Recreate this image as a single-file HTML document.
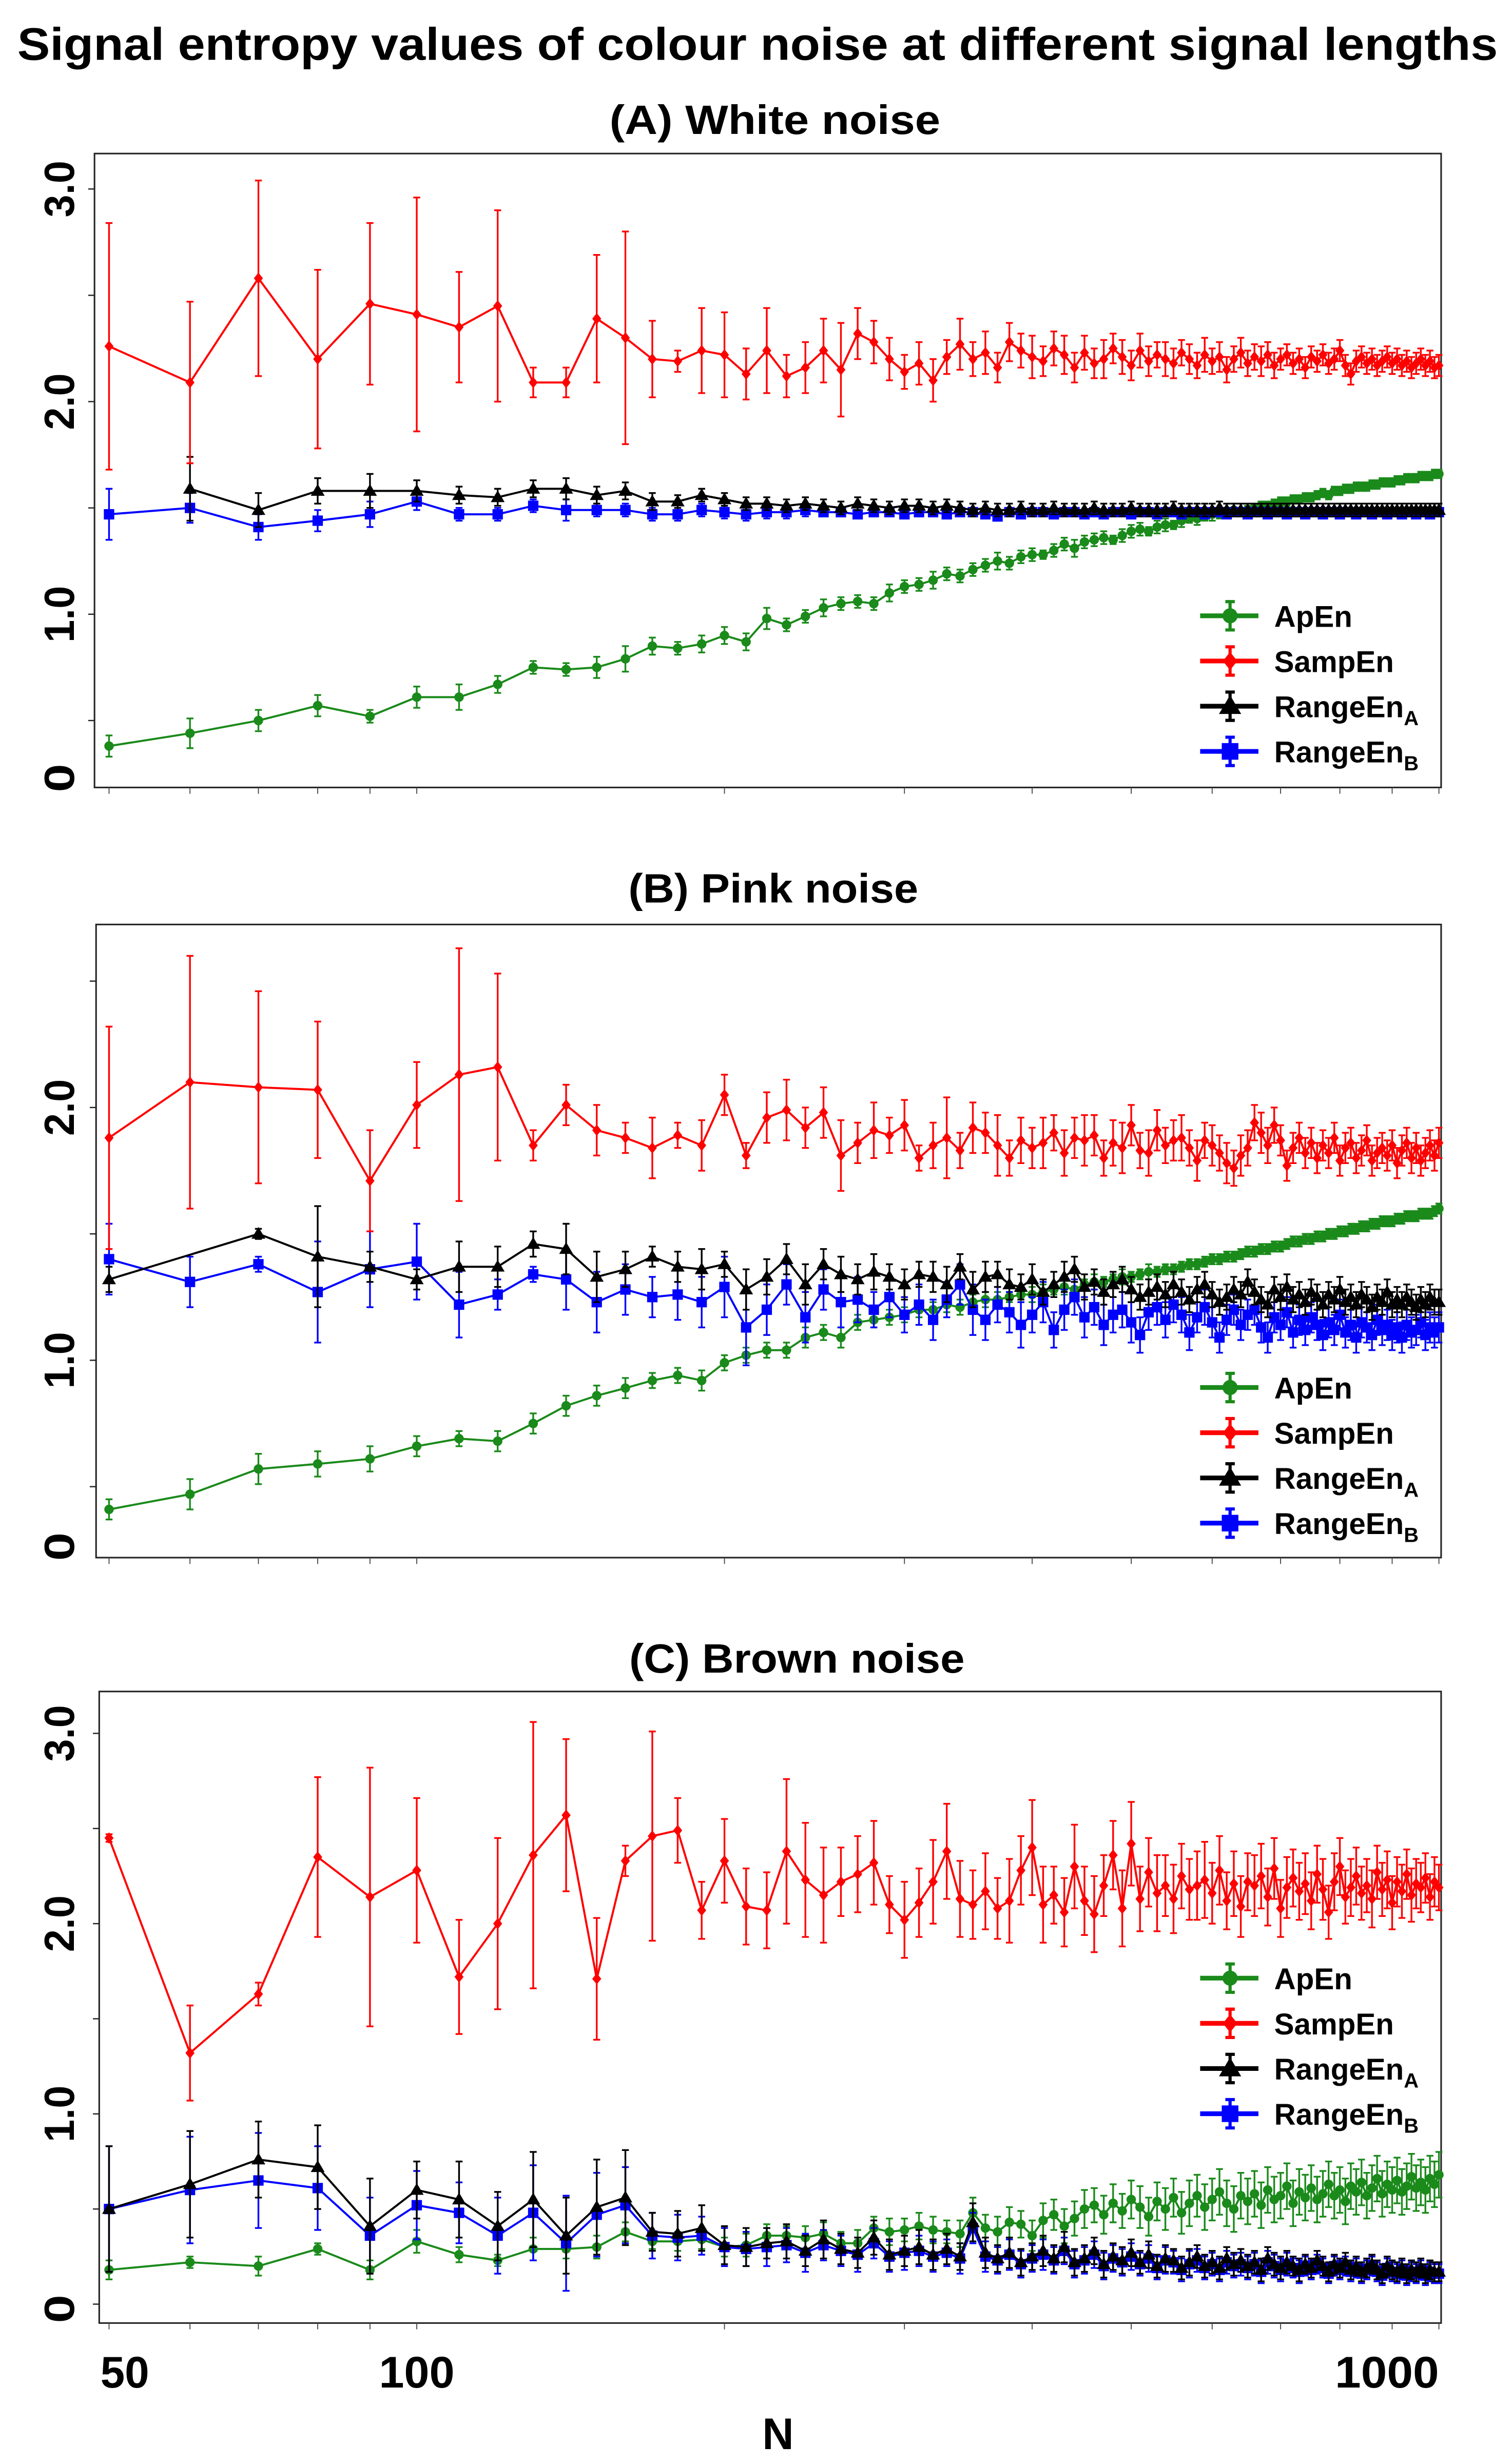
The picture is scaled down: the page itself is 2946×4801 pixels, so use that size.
<!DOCTYPE html>
<html><head><meta charset="utf-8">
<style>
html,body{margin:0;padding:0;background:#fff;}
svg{display:block;}
text{font-family:"Liberation Sans",sans-serif;font-weight:bold;}
</style></head>
<body>
<svg id="chart" width="2946" height="4801" viewBox="0 0 960 1564.5" preserveAspectRatio="none" xmlns="http://www.w3.org/2000/svg">
<rect x="0" y="0" width="960" height="1564.5" fill="#fff"/>
<text x="481" y="38" font-size="29" text-anchor="middle" textLength="940" lengthAdjust="spacingAndGlyphs">Signal entropy values of colour noise at different signal lengths</text>
<text x="494" y="1555" font-size="28" text-anchor="middle" textLength="20" lengthAdjust="spacingAndGlyphs">N</text>
</svg>
<script>
const Ns=[50,60,70,80,90,100,110,120,130,140,150,160,170,180,190,200,210,220,230,240,250,260,270,280,290,300,310,320,330,340,350,360,370,380,390,400,410,420,430,440,450,460,470,480,490,500,510,520,530,540,550,560,570,580,590,600,610,620,630,640,650,660,670,680,690,700,710,720,730,740,750,760,770,780,790,800,810,820,830,840,850,860,870,880,890,900,910,920,930,940,950,960,970,980,990,1000];
const xTickLabels=["50","100","1000"];
const xTickValues=[50,100,1000];
const xMinorTicks=[50,60,70,80,90,100,200,300,400,500,600,700,800,900,1000];

/* ---------- Panel A: white noise ---------- */
const whiteApEn=[0.38,0.44,0.50,0.57,0.52,0.61,0.61,0.67,0.75,0.74,0.75,0.79,0.85,0.84,0.86,0.90,0.87,0.98,0.95,0.99,1.03,1.05,1.06,1.05,1.10,1.13,1.14,1.16,1.19,1.18,1.21,1.23,1.25,1.24,1.27,1.28,1.28,1.30,1.33,1.31,1.34,1.35,1.36,1.35,1.37,1.39,1.40,1.39,1.41,1.42,1.42,1.44,1.45,1.45,1.46,1.47,1.47,1.48,1.49,1.48,1.49,1.50,1.51,1.51,1.52,1.53,1.53,1.54,1.54,1.55,1.55,1.56,1.57,1.56,1.58,1.58,1.59,1.59,1.60,1.60,1.60,1.61,1.61,1.62,1.62,1.62,1.63,1.63,1.64,1.64,1.64,1.65,1.65,1.65,1.66,1.66];
const whiteApEnErr=[0.05,0.07,0.05,0.05,0.03,0.05,0.06,0.04,0.03,0.03,0.05,0.06,0.04,0.03,0.04,0.04,0.04,0.05,0.03,0.03,0.04,0.03,0.03,0.03,0.04,0.03,0.03,0.04,0.03,0.03,0.03,0.03,0.04,0.03,0.03,0.03,0.02,0.03,0.03,0.04,0.03,0.03,0.03,0.02,0.03,0.03,0.03,0.02,0.03,0.03,0.02,0.03,0.02,0.03,0.02,0.03,0.02,0.02,0.03,0.02,0.02];
const whiteSampEn=[2.26,2.09,2.58,2.20,2.46,2.41,2.35,2.45,2.09,2.09,2.39,2.30,2.20,2.19,2.24,2.22,2.13,2.24,2.12,2.16,2.24,2.15,2.32,2.28,2.20,2.14,2.18,2.10,2.21,2.27,2.20,2.23,2.16,2.28,2.24,2.21,2.19,2.25,2.22,2.16,2.23,2.18,2.20,2.25,2.21,2.17,2.24,2.19,2.22,2.20,2.18,2.23,2.20,2.17,2.22,2.19,2.21,2.15,2.20,2.23,2.18,2.21,2.19,2.22,2.17,2.20,2.22,2.18,2.20,2.16,2.21,2.19,2.22,2.18,2.20,2.24,2.17,2.13,2.19,2.21,2.18,2.20,2.17,2.19,2.21,2.18,2.20,2.17,2.19,2.16,2.18,2.20,2.17,2.19,2.16,2.17];
const whiteSampEnErr=[0.58,0.38,0.46,0.42,0.38,0.55,0.26,0.45,0.07,0.07,0.30,0.50,0.18,0.05,0.20,0.20,0.12,0.20,0.10,0.12,0.15,0.22,0.12,0.10,0.10,0.08,0.10,0.10,0.08,0.12,0.08,0.10,0.07,0.09,0.08,0.10,0.07,0.08,0.09,0.07,0.08,0.07,0.09,0.07,0.08,0.07,0.08,0.07,0.06,0.08,0.07,0.06,0.07,0.06,0.08,0.06,0.07,0.06,0.06,0.07,0.06,0.06,0.07,0.06,0.06,0.05];
const whiteRangeA=[null,1.59,1.49,1.58,1.58,1.58,1.56,1.55,1.59,1.59,1.56,1.58,1.53,1.53,1.56,1.54,1.52,1.52,1.51,1.52,1.51,1.50,1.52,1.51,1.50,1.51,1.51,1.50,1.51,1.50,1.49,1.50,1.49,1.49,1.50,1.49,1.49,1.50,1.49,1.49,1.49,1.50,1.49,1.49,1.49,1.50,1.49,1.49,1.49,1.49,1.50,1.49,1.49,1.49,1.49,1.49,1.50,1.49,1.49,1.49,1.49,1.49,1.49,1.49,1.49,1.49,1.49,1.49,1.49,1.49,1.49,1.49,1.49,1.49,1.49,1.49,1.49,1.49,1.49,1.49,1.49,1.49,1.49,1.49,1.49,1.49,1.49,1.49,1.49,1.49,1.49,1.49,1.49,1.49,1.49,1.49];
const whiteRangeAErr=[0,0.15,0.08,0.06,0.08,0.05,0.04,0.04,0.04,0.05,0.04,0.04,0.04,0.03,0.03,0.03,0.03,0.03,0.03,0.03,0.03];
const whiteRangeB=[1.47,1.50,1.41,1.44,1.47,1.53,1.47,1.47,1.51,1.49,1.49,1.49,1.47,1.47,1.49,1.48,1.47,1.48,1.48,1.49,1.48,1.48,1.47,1.48,1.48,1.47,1.48,1.48,1.47,1.48,1.48,1.47,1.46,1.48,1.47,1.48,1.48,1.47,1.48,1.48,1.47,1.48,1.47,1.48,1.48,1.47,1.48,1.48,1.47,1.48,1.48,1.47,1.48,1.48,1.47,1.48,1.48,1.47,1.48,1.48,1.47,1.48,1.48,1.47,1.48,1.48,1.47,1.48,1.48,1.47,1.48,1.48,1.47,1.48,1.48,1.47,1.48,1.48,1.47,1.48,1.48,1.47,1.48,1.48,1.47,1.48,1.48,1.47,1.48,1.48,1.47,1.48,1.48,1.47,1.48,1.48];
const whiteRangeBErr=[0.12,0.07,0.06,0.05,0.06,0.04,0.03,0.03,0.03,0.05,0.03,0.03,0.03,0.03,0.03,0.03,0.03,0.03,0.03,0.03,0.02];

/* ---------- Panel B: pink noise ---------- */
const pinkApEn=[0.41,0.47,0.57,0.59,0.61,0.66,0.69,0.68,0.75,0.82,0.86,0.89,0.92,0.94,0.92,0.99,1.02,1.04,1.04,1.09,1.11,1.09,1.15,1.16,1.17,1.18,1.20,1.20,1.22,1.21,1.23,1.24,1.24,1.25,1.26,1.26,1.27,1.28,1.29,1.28,1.30,1.31,1.31,1.32,1.33,1.33,1.34,1.35,1.35,1.36,1.36,1.37,1.38,1.38,1.39,1.40,1.40,1.41,1.41,1.42,1.43,1.43,1.44,1.44,1.45,1.45,1.46,1.47,1.47,1.48,1.48,1.49,1.49,1.50,1.50,1.51,1.51,1.52,1.52,1.53,1.53,1.54,1.54,1.55,1.55,1.55,1.56,1.56,1.57,1.57,1.57,1.58,1.58,1.58,1.59,1.60];
const pinkApEnErr=[0.04,0.06,0.06,0.05,0.05,0.04,0.03,0.04,0.04,0.04,0.04,0.04,0.03,0.03,0.04,0.03,0.03,0.03,0.03,0.04,0.03,0.04,0.03,0.03,0.03,0.03,0.03,0.03,0.03,0.03,0.03,0.03,0.03,0.02,0.03,0.03,0.03,0.02,0.03,0.03,0.02,0.03,0.02,0.02,0.03,0.02,0.02,0.03,0.02,0.02,0.02];
const pinkSampEn=[1.88,2.10,2.08,2.07,1.71,2.01,2.13,2.16,1.85,2.01,1.91,1.88,1.84,1.89,1.85,2.05,1.81,1.96,1.99,1.92,1.98,1.81,1.86,1.91,1.89,1.93,1.80,1.85,1.88,1.83,1.92,1.90,1.85,1.80,1.87,1.84,1.86,1.90,1.82,1.88,1.87,1.89,1.80,1.86,1.84,1.93,1.83,1.82,1.91,1.85,1.87,1.88,1.84,1.79,1.87,1.85,1.82,1.78,1.76,1.81,1.84,1.94,1.90,1.85,1.93,1.87,1.77,1.84,1.88,1.82,1.86,1.80,1.85,1.82,1.88,1.79,1.84,1.86,1.80,1.83,1.87,1.79,1.82,1.84,1.81,1.85,1.78,1.83,1.86,1.80,1.84,1.79,1.82,1.85,1.81,1.86];
const pinkSampEnErr=[0.44,0.50,0.38,0.27,0.20,0.17,0.50,0.37,0.06,0.08,0.10,0.06,0.12,0.05,0.10,0.08,0.05,0.10,0.12,0.08,0.10,0.14,0.08,0.11,0.07,0.10,0.05,0.09,0.16,0.07,0.10,0.08,0.12,0.07,0.09,0.08,0.10,0.07,0.09,0.08,0.10,0.08,0.07,0.09,0.10,0.08,0.07,0.09,0.08,0.07,0.08,0.09,0.07,0.08,0.07,0.08,0.07,0.08,0.07,0.08,0.07,0.07,0.08,0.07,0.07,0.06];
const pinkRangeA=[1.32,null,1.50,1.41,1.37,1.32,1.37,1.37,1.46,1.44,1.33,1.36,1.41,1.37,1.36,1.38,1.28,1.33,1.40,1.30,1.38,1.34,1.32,1.35,1.33,1.30,1.34,1.33,1.30,1.37,1.28,1.33,1.34,1.30,1.29,1.32,1.27,1.30,1.33,1.36,1.29,1.31,1.27,1.30,1.32,1.28,1.25,1.27,1.29,1.26,1.30,1.27,1.24,1.28,1.30,1.26,1.23,1.25,1.28,1.26,1.31,1.27,1.24,1.22,1.28,1.25,1.29,1.24,1.26,1.23,1.27,1.25,1.22,1.26,1.24,1.28,1.23,1.25,1.22,1.26,1.24,1.21,1.25,1.23,1.27,1.22,1.24,1.22,1.25,1.23,1.21,1.24,1.22,1.25,1.23,1.23];
const pinkRangeAErr=[0.05,0,0.02,0.2,0.06,0.04,0.10,0.08,0.05,0.10,0.10,0.07,0.04,0.06,0.08,0.05,0.08,0.07,0.06,0.08,0.06,0.07,0.06,0.07,0.05,0.06,0.05,0.06,0.07,0.05,0.07,0.06,0.05,0.06,0.05,0.06,0.05,0.05,0.06,0.05,0.05];
const pinkRangeB=[1.40,1.31,1.38,1.27,1.36,1.39,1.22,1.26,1.34,1.32,1.23,1.28,1.25,1.26,1.23,1.29,1.13,1.20,1.30,1.17,1.28,1.23,1.24,1.20,1.25,1.18,1.22,1.16,1.24,1.30,1.20,1.16,1.22,1.19,1.14,1.18,1.23,1.12,1.20,1.25,1.17,1.21,1.14,1.18,1.20,1.15,1.10,1.19,1.21,1.16,1.22,1.18,1.11,1.17,1.21,1.15,1.09,1.16,1.20,1.14,1.18,1.20,1.13,1.09,1.17,1.14,1.19,1.11,1.16,1.12,1.17,1.14,1.10,1.15,1.12,1.18,1.11,1.14,1.09,1.15,1.13,1.10,1.16,1.12,1.14,1.10,1.13,1.09,1.14,1.11,1.12,1.15,1.10,1.13,1.11,1.13];
const pinkRangeBErr=[0.14,0.10,0.03,0.20,0.15,0.15,0.13,0.06,0.03,0.12,0.12,0.10,0.08,0.10,0.10,0.12,0.15,0.10,0.08,0.10,0.08,0.10,0.09,0.07,0.08,0.07,0.08,0.08,0.07,0.08,0.10,0.08,0.07,0.08,0.09,0.07,0.08,0.07,0.08,0.07,0.08,0.07,0.08,0.07,0.07,0.08,0.07,0.07,0.07,0.07,0.07,0.07,0.07,0.06,0.07,0.06];

/* ---------- Panel C: brown noise ---------- */
const brownApEn=[0.18,0.22,0.20,0.29,0.18,0.33,0.26,0.23,0.29,0.29,0.30,0.38,0.33,0.33,0.34,0.30,0.31,0.36,0.36,0.35,0.37,0.32,0.32,0.40,0.38,0.39,0.41,0.39,0.38,0.37,0.48,0.40,0.38,0.43,0.42,0.36,0.44,0.47,0.41,0.45,0.50,0.52,0.47,0.53,0.49,0.55,0.51,0.46,0.54,0.50,0.56,0.48,0.53,0.57,0.51,0.55,0.59,0.53,0.50,0.57,0.54,0.58,0.52,0.60,0.55,0.57,0.62,0.53,0.59,0.56,0.61,0.55,0.58,0.63,0.57,0.60,0.54,0.62,0.59,0.64,0.57,0.61,0.66,0.58,0.63,0.60,0.65,0.59,0.62,0.67,0.61,0.64,0.60,0.66,0.63,0.68];
const brownApEnErr=[0.05,0.03,0.05,0.03,0.05,0.06,0.04,0.03,0.06,0.05,0.06,0.05,0.04,0.05,0.05,0.05,0.06,0.06,0.05,0.06,0.06,0.06,0.07,0.06,0.07,0.06,0.07,0.07,0.06,0.07,0.08,0.07,0.08,0.08,0.07,0.08,0.09,0.08,0.09,0.09,0.10,0.09,0.10,0.10,0.09,0.10,0.11,0.10,0.10,0.11,0.10,0.11,0.12,0.11,0.12,0.11,0.12];
const brownSampEn=[2.45,1.32,1.63,2.35,2.14,2.28,1.72,2.00,2.36,2.57,1.71,2.33,2.46,2.49,2.07,2.33,2.09,2.07,2.38,2.23,2.15,2.22,2.26,2.32,2.10,2.02,2.11,2.22,2.38,2.13,2.10,2.17,2.08,2.12,2.28,2.40,2.10,2.15,2.06,2.30,2.12,2.05,2.20,2.36,2.08,2.42,2.13,2.27,2.16,2.20,2.13,2.25,2.18,2.20,2.23,2.16,2.28,2.12,2.21,2.09,2.22,2.20,2.25,2.14,2.29,2.08,2.19,2.24,2.17,2.21,2.12,2.26,2.18,2.06,2.22,2.30,2.14,2.19,2.25,2.16,2.20,2.13,2.27,2.18,2.23,2.11,2.22,2.17,2.26,2.15,2.21,2.19,2.24,2.14,2.22,2.19];
const brownSampEnErr=[0.02,0.25,0.06,0.42,0.68,0.38,0.30,0.45,0.70,0.40,0.32,0.08,0.55,0.17,0.15,0.22,0.20,0.20,0.38,0.30,0.25,0.18,0.20,0.22,0.15,0.20,0.18,0.22,0.25,0.20,0.18,0.20,0.16,0.22,0.18,0.25,0.20,0.15,0.18,0.22,0.18,0.20,0.16,0.18,0.20,0.22,0.17,0.18,0.20,0.16,0.18,0.17,0.16,0.18,0.20,0.16,0.18,0.15,0.17,0.16,0.15,0.16,0.17,0.15,0.16,0.15,0.16,0.15,0.15,0.16,0.15,0.15,0.16,0.14,0.15,0.15,0.14,0.15,0.15,0.14,0.14,0.15,0.14,0.14,0.15,0.14,0.13,0.14,0.13,0.14,0.13,0.13,0.13,0.12,0.13,0.12];
const brownRangeA=[0.50,0.63,0.76,0.72,0.41,0.60,0.55,0.41,0.55,0.36,0.51,0.56,0.38,0.37,0.40,0.31,0.30,0.32,0.33,0.28,0.34,0.29,0.27,0.35,0.26,0.28,0.30,0.26,0.29,0.25,0.43,0.27,0.24,0.27,0.22,0.25,0.28,0.24,0.30,0.22,0.24,0.28,0.21,0.25,0.23,0.27,0.22,0.26,0.20,0.24,0.23,0.19,0.22,0.25,0.20,0.22,0.19,0.24,0.21,0.23,0.20,0.22,0.18,0.24,0.21,0.19,0.22,0.20,0.18,0.21,0.19,0.23,0.20,0.17,0.21,0.19,0.22,0.18,0.20,0.17,0.19,0.21,0.18,0.16,0.20,0.18,0.17,0.19,0.16,0.18,0.17,0.19,0.16,0.18,0.17,0.17];
const brownRangeAErr=[0.33,0.28,0.20,0.22,0.25,0.15,0.20,0.18,0.25,0.20,0.25,0.25,0.10,0.12,0.12,0.10,0.10,0.08,0.09,0.08,0.10,0.08,0.08,0.09,0.08,0.08,0.09,0.08,0.08,0.07,0.10,0.08,0.07,0.08,0.07,0.07,0.08,0.07,0.08,0.07,0.07,0.07,0.07,0.07,0.07,0.07,0.06,0.07,0.06,0.07,0.06,0.06,0.07,0.06,0.06,0.06,0.06,0.06,0.06,0.06,0.06,0.06,0.06,0.06,0.06,0.06,0.06,0.05,0.06,0.05];
const brownRangeB=[0.50,0.60,0.65,0.61,0.36,0.52,0.48,0.36,0.48,0.32,0.47,0.52,0.36,0.35,0.36,0.30,0.29,0.30,0.31,0.27,0.31,0.28,0.26,0.32,0.25,0.27,0.28,0.25,0.27,0.24,0.40,0.25,0.23,0.26,0.21,0.24,0.26,0.23,0.28,0.21,0.23,0.26,0.20,0.24,0.22,0.25,0.21,0.24,0.19,0.23,0.22,0.18,0.21,0.23,0.19,0.21,0.18,0.22,0.20,0.21,0.19,0.21,0.17,0.22,0.20,0.18,0.21,0.19,0.17,0.20,0.18,0.21,0.19,0.16,0.20,0.18,0.20,0.17,0.19,0.16,0.18,0.20,0.17,0.15,0.19,0.17,0.16,0.18,0.15,0.17,0.16,0.18,0.15,0.17,0.16,0.16];
const brownRangeBErr=[0.33,0.28,0.25,0.22,0.20,0.18,0.16,0.20,0.25,0.25,0.22,0.20,0.12,0.12,0.10,0.10,0.09,0.10,0.09,0.10,0.08,0.08,0.09,0.08,0.08,0.09,0.08,0.08,0.07,0.08,0.08,0.08,0.07,0.08,0.07,0.07,0.08,0.07,0.07,0.07,0.07,0.07,0.07,0.07,0.07,0.07,0.06,0.07,0.06,0.07,0.06,0.06,0.07,0.06,0.06,0.06,0.06,0.06,0.06,0.06,0.06,0.06,0.06,0.06,0.06,0.06,0.06,0.05,0.06,0.05];

const yTicksA=[3.0,2.5,2.0,1.5,1.0,0.5];
const yTicksB=[2.5,2.0,1.5,1.0,0.5];
const yTicksC=[3.0,2.5,2.0,1.5,1.0,0.5,0];
const yLabelsA=["3.0","2.0","1.0"];
const yLabelsB=["2.0","1.0"];
const yLabelsC=["3.0","2.0","1.0"];
const seriesNames=["ApEn","SampEn","RangeEn","RangeEn"];
const seriesSubs=["","","A","B"];

/* ---------- rendering ---------- */
const svg=document.getElementById('chart');
const NS='http://www.w3.org/2000/svg';
function mk(tag,attrs,parent){const e=document.createElementNS(NS,tag);for(const k in attrs)e.setAttribute(k,attrs[k]);(parent||svg).appendChild(e);return e;}
function xScale(n){return 264.6+649*Math.log10(n/100);}
const COLORS={ap:'#1a8a1a',samp:'#ff0000',ra:'#000000',rb:'#0000ff'};

function marker(g,type,cx,cy,col,s){
  s=s||1;
  if(type==='ap'){const m=mk('circle',{cx:cx,cy:cy,r:3*s,fill:col},g);}
  else if(type==='samp'){const d=3.6*s;const m=mk('polygon',{points:`${cx},${cy-d} ${cx+d*0.8},${cy} ${cx},${cy+d} ${cx-d*0.8},${cy}`,fill:col},g);}
  else if(type==='ra'){const d=4.4*s;const m=mk('polygon',{points:`${cx},${cy-d} ${cx+d},${cy+d*0.7} ${cx-d},${cy+d*0.7}`,fill:col},g);}
  else {const d=3.3*s;const m=mk('rect',{x:cx-d,y:cy-d,width:2*d,height:2*d,fill:col},g);}
}

function drawPanel(p){
  const g=mk('g',{});
  
  
  const yS=v=>p.y1-(v-p.v1)*p.unit;
  const t=mk('text',{x:p.titleX,y:p.titleY,'font-size':26,'text-anchor':'middle',textLength:p.titleW,lengthAdjust:'spacingAndGlyphs'},g);
  t.textContent=p.title;
  
  
  const box=mk('rect',{x:p.left,y:p.top,width:p.right-p.left,height:p.bottom-p.top,fill:'none',stroke:'#222','stroke-width':1},g);
  
  
  p.yTicks.forEach(v=>{const y=yS(v);const tk=mk('line',{x1:p.left-4,x2:p.left,y1:y,y2:y,stroke:'#222','stroke-width':0.8},g);});
  p.yLabels.forEach(l=>{const v=parseFloat(l);const y=yS(v);
    const tx=mk('text',{x:0,y:0,'font-size':27,'text-anchor':'middle',transform:`translate(47,${y}) rotate(-90)`,textLength:36,lengthAdjust:'spacingAndGlyphs'},g);
    tx.textContent=l;
    
    });
  const z=mk('text',{x:0,y:0,'font-size':27,'text-anchor':'middle',transform:`translate(47,${p.zeroLabelY}) rotate(-90)`,textLength:18,lengthAdjust:'spacingAndGlyphs'},g);
  z.textContent='0';
  
  
  xMinorTicks.forEach(n=>{const x=xScale(n);const tk=mk('line',{x1:x,x2:x,y1:p.bottom,y2:p.bottom+4,stroke:'#444','stroke-width':0.6},g);});
  const ser=[['ap',p.ap,p.apE],['rb',p.rb,p.rbE],['ra',p.ra,p.raE],['samp',p.samp,p.sampE]];
  ser.forEach(([type,vals,errs])=>{
    const col=COLORS[type];
    const sg=mk('g',{},g);
    
    
    const n=Math.min(vals.length,Ns.length);
    let d='';
    for(let i=0;i<n;i++){const v=vals[i];if(v===null)continue;const x=xScale(Ns[i]),y=yS(v);d+=(d?'L':'M')+x.toFixed(2)+','+y.toFixed(2);}
    const pl=mk('path',{d:d,fill:'none',stroke:col,'stroke-width':1.3,'stroke-linejoin':'round'},sg);
    
    
    for(let i=0;i<n;i++){const v=vals[i];if(v===null)continue;
      const e=(errs[i]!==undefined)?errs[i]:errs[errs.length-1];
      const x=xScale(Ns[i]),y=yS(v),y0=yS(v+e),y1=yS(v-e);
      if(e>0){
        const eb=mk('path',{d:`M${x},${y0}L${x},${y1}M${x-2.2},${y0}L${x+2.2},${y0}M${x-2.2},${y1}L${x+2.2},${y1}`,stroke:col,'stroke-width':1.1,fill:'none'},sg);
        
        
      }
      marker(sg,type,x,y,col,1);
    }
  });
  const lg=mk('g',{},g);
  
  
  const types=['ap','samp','ra','rb'];
  types.forEach((ty,k)=>{
    const y=p.legY+k*28.7;const col=COLORS[ty];
    const le=mk('g',{},lg);
    
    
    mk('line',{x1:762,x2:799,y1:y,y2:y,stroke:col,'stroke-width':3},le);
    mk('path',{d:`M781,${y-9}L781,${y+9}M778,${y-9}L784,${y-9}M778,${y+9}L784,${y+9}`,stroke:col,'stroke-width':2,fill:'none'},le);
    marker(le,ty,781,y,col,1.6);
    const tx=mk('text',{x:809,y:y+7,'font-size':19},le);
    tx.textContent=seriesNames[k];
    if(seriesSubs[k]){const ts=mk('tspan',{'font-size':13,dy:5},tx);ts.textContent=seriesSubs[k];}
  });
}

const panels=[
 {name:'panel-a-white-noise',title:'(A) White noise',titleX:492,titleY:85,titleW:210,left:60,right:915,top:97.5,bottom:500,v1:1.0,y1:390,unit:135,yTicks:yTicksA,yLabels:yLabelsA,zeroLabelY:494,legY:391,
  ap:whiteApEn,apE:whiteApEnErr,samp:whiteSampEn,sampE:whiteSampEnErr,ra:whiteRangeA,raE:whiteRangeAErr,rb:whiteRangeB,rbE:whiteRangeBErr},
 {name:'panel-b-pink-noise',title:'(B) Pink noise',titleX:491,titleY:573,titleW:184,left:61,right:915,top:587,bottom:989,v1:1.0,y1:863.7,unit:160.5,yTicks:yTicksB,yLabels:yLabelsB,zeroLabelY:982,legY:881,
  ap:pinkApEn,apE:pinkApEnErr,samp:pinkSampEn,sampE:pinkSampEnErr,ra:pinkRangeA,raE:pinkRangeAErr,rb:pinkRangeB,rbE:pinkRangeBErr},
 {name:'panel-c-brown-noise',title:'(C) Brown noise',titleX:506,titleY:1062,titleW:213,left:63,right:915,top:1074,bottom:1475,v1:0,y1:1463,unit:120.8,yTicks:yTicksC,yLabels:yLabelsC,zeroLabelY:1466,legY:1256,
  ap:brownApEn,apE:brownApEnErr,samp:brownSampEn,sampE:brownSampEnErr,ra:brownRangeA,raE:brownRangeAErr,rb:brownRangeB,rbE:brownRangeBErr}
];
panels.forEach(drawPanel);

const xLabelW=[31,48,66];
xTickValues.forEach((n,i)=>{
  let cx=xScale(n);
  if(i===2)cx-=33;
  if(i===0)cx+=10;
  const t=mk('text',{x:cx,y:1516,'font-size':28,'text-anchor':'middle',textLength:xLabelW[i],lengthAdjust:'spacingAndGlyphs'});
  t.textContent=xTickLabels[i];
  
  
});
</script>
</body></html>
